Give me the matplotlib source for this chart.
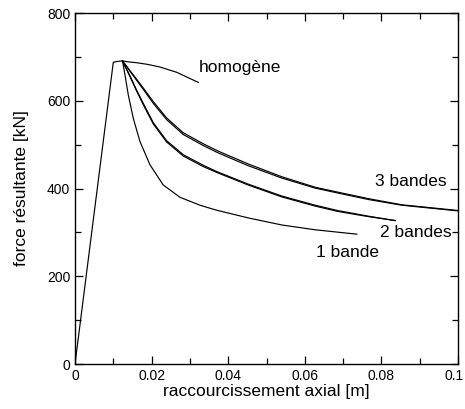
import matplotlib
matplotlib.use("Agg")
import matplotlib.pyplot as plt
from matplotlib.ticker import MultipleLocator

plt.rcParams['font.family'] = ['Liberation Sans', 'DejaVu Sans']

# elastic branch
x_elast = [0.0, 0.0100, 0.0112, 0.0124]
y_elast = [0.0, 688, 690, 691]

# homogène
x_homo = [0.0124, 0.0137, 0.016, 0.019, 0.0222, 0.02655, 0.0322]
y_homo = [691, 689, 687, 683, 677, 665, 642]

# 1 bande
x_b1 = [0.0124, 0.01305, 0.01392, 0.01522, 0.01697, 0.01958, 0.02305, 0.02742,
        0.03264, 0.0368, 0.04525, 0.05396, 0.0627, 0.0692, 0.0736]
y_b1 = [691, 659, 613, 560, 507, 454, 408, 380,
        362, 351, 333, 317, 306, 300, 296]

# 2 bandes (two nearly identical curves)
x_b2 = [0.0124, 0.01436, 0.0161, 0.01784, 0.02045, 0.02393, 0.02829, 0.0335,
        0.0372, 0.04525, 0.05396, 0.0627, 0.0685, 0.0766, 0.0836]
y_b2a = [691, 655, 622, 591, 547, 506, 474, 450,
         436, 408, 381, 360, 348, 336, 327]
y_b2b = [691, 657, 624, 594, 550, 509, 477, 453,
         438, 410, 383, 362, 350, 337, 327]

# 3 bandes (two nearly identical curves)
x_b3 = [0.0124, 0.01523, 0.01784, 0.02045, 0.02393, 0.02829, 0.0335, 0.0372,
        0.04525, 0.05396, 0.0627, 0.0685, 0.0766, 0.0853, 0.1]
y_b3a = [691, 657, 626, 594, 557, 523, 498, 482,
         452, 424, 401, 390, 375, 362, 349]
y_b3b = [691, 659, 629, 598, 561, 527, 502, 486,
         456, 427, 403, 392, 377, 363, 350]

labels = ["homogène", "1 bande", "2 bandes", "3 bandes"]
label_x = [0.0324, 0.0629, 0.0796, 0.0783]
label_y = [677, 255, 299, 415]

x_ticks = [0, 0.02, 0.04, 0.06, 0.08, 0.1]
x_ticklabels = ["0", "0.02", "0.04", "0.06", "0.08", "0.1"]

fig = plt.figure(figsize=(4.65, 4.09), dpi=100)
ax = fig.add_axes([0.1613, 0.110, 0.985 - 0.1613, 0.968 - 0.110])

lw = 0.85
ax.plot(x_elast, y_elast, color='black', lw=lw)
ax.plot(x_homo, y_homo, color='black', lw=lw)
ax.plot(x_b1, y_b1, color='black', lw=lw)
ax.plot(x_b2, y_b2a, color='black', lw=lw)
ax.plot(x_b2, y_b2b, color='black', lw=lw)
ax.plot(x_b3, y_b3a, color='black', lw=lw)
ax.plot(x_b3, y_b3b, color='black', lw=lw)

for t, tx, ty in zip(labels, label_x, label_y):
    ax.text(tx, ty, t, fontsize=12.5, ha='left', va='center')

ax.set_xlim(0, 0.1)
ax.set_ylim(0, 800)
ax.xaxis.set_minor_locator(MultipleLocator(0.01))
ax.yaxis.set_major_locator(MultipleLocator(200))
ax.yaxis.set_minor_locator(MultipleLocator(100))
ax.set_xticks(x_ticks)
# last label is drawn separately, nudged left so it stays inside the figure
ax.set_xticklabels(x_ticklabels[:-1] + [""])
ax.annotate(x_ticklabels[-1], xy=(x_ticks[-1], 0), xycoords=('data', 'axes fraction'),
            xytext=(-2.5, -3.5), textcoords='offset points',
            ha='center', va='top', fontsize=10)
ax.tick_params(which='both', direction='in', top=True, right=True, labelsize=10, width=0.9)
ax.tick_params(which='major', length=6)
ax.tick_params(which='minor', length=4)
for s in ax.spines.values():
    s.set_linewidth(1.0)

ax.set_xlabel("raccourcissement axial [m]", fontsize=12.5, labelpad=1)
ax.set_ylabel("force résultante [kN]", fontsize=12.5, labelpad=13)

fig.savefig("out.png", dpi=100)
